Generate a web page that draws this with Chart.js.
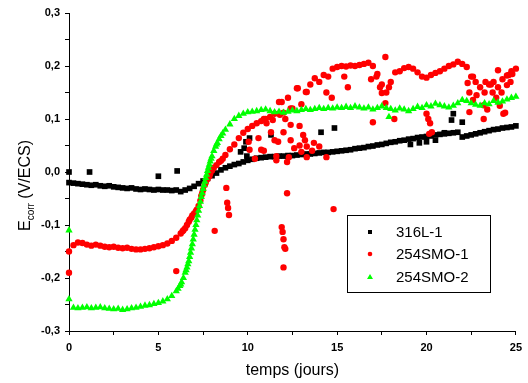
<!DOCTYPE html>
<html>
<head>
<meta charset="utf-8">
<script src="https://cdn.jsdelivr.net/npm/chart.js@4.4.1/dist/chart.umd.min.js"></script>
<style>
  html, body { margin: 0; padding: 0; background: #fff; }
  #wrap { position: relative; width: 528px; height: 383px; }
</style>
</head>
<body>
<div id="wrap"><canvas id="ecorrChart"></canvas></div>
<script>
// time grid (days), one reading every quarter day
var days = [
  0, 0.25, 0.5, 0.75, 1, 1.25, 1.5, 1.75, 2, 2.25, 2.5, 2.75, 3, 3.25, 3.5, 3.75,
  4, 4.25, 4.5, 4.75, 5, 5.25, 5.5, 5.75, 6, 6.25, 6.5, 6.75, 7, 7.25, 7.5, 7.75,
  8, 8.25, 8.5, 8.75, 9, 9.25, 9.5, 9.75, 10, 10.25, 10.5, 10.75, 11, 11.25, 11.5, 11.75,
  12, 12.25, 12.5, 12.75, 13, 13.25, 13.5, 13.75, 14, 14.25, 14.5, 14.75, 15, 15.25, 15.5, 15.75,
  16, 16.25, 16.5, 16.75, 17, 17.25, 17.5, 17.75, 18, 18.25, 18.5, 18.75, 19, 19.25, 19.5, 19.75,
  20, 20.25, 20.5, 20.75, 21, 21.25, 21.5, 21.75, 22, 22.25, 22.5, 22.75, 23, 23.25, 23.5, 23.75,
  24, 24.25, 24.5, 24.75, 25
];

var e316L = [
  -0.020, -0.021, -0.022, -0.023, -0.024, -0.025, -0.024, -0.026,
  -0.027, -0.026, -0.028, -0.029, -0.030, -0.031, -0.030, -0.032,
  -0.033, -0.032, -0.033, -0.034, -0.033, -0.034, -0.034, -0.035,
  -0.034, -0.037, -0.034, -0.031, -0.027, -0.022, -0.017, -0.012,
  -0.007, -0.002, 0.004, 0.008, 0.011, 0.014, 0.016, 0.019,
  0.022, 0.024, 0.026, 0.027, 0.028, 0.029, 0.029, 0.030,
  0.030, 0.031, 0.031, 0.032, 0.033, 0.034, 0.034, 0.035,
  0.036, 0.037, 0.037, 0.038, 0.039, 0.040, 0.041, 0.042,
  0.044, 0.045, 0.046, 0.048, 0.049, 0.051, 0.052, 0.054,
  0.056, 0.057, 0.059, 0.060, 0.062, 0.063, 0.065, 0.066,
  0.067, 0.068, 0.070, 0.071, 0.072, 0.073, 0.074, 0.075,
  0.066, 0.068, 0.070, 0.072, 0.074, 0.076, 0.078, 0.080,
  0.081, 0.083, 0.084, 0.085, 0.087
];

var e254SMO1 = [
  -0.150, -0.138, -0.133, -0.134, -0.137, -0.139, -0.137, -0.139,
  -0.141, -0.142, -0.141, -0.143, -0.144, -0.143, -0.145, -0.146,
  -0.146, -0.145, -0.144, -0.142, -0.140, -0.138, -0.135, -0.130,
  -0.124, -0.116, -0.106, -0.090, -0.078, -0.064, -0.034, -0.013,
  0.003, 0.013, 0.021, 0.032, 0.043, 0.052, 0.064, 0.074,
  0.081, 0.087, 0.092, 0.096, 0.100, 0.104, 0.110, 0.132,
  0.112, 0.140, 0.120, 0.158, 0.128, 0.151, 0.165, 0.177,
  0.170, 0.183, 0.180, 0.195, 0.198, 0.200, 0.199, 0.201,
  0.200, 0.202, 0.204, 0.206, 0.200, 0.185, 0.165, 0.150,
  0.170, 0.188, 0.190, 0.196, 0.198, 0.195, 0.188, 0.180,
  0.178, 0.183, 0.187, 0.190, 0.195, 0.200, 0.203, 0.208,
  0.204, 0.198, 0.180, 0.170, 0.160, 0.150, 0.165, 0.170,
  0.160, 0.175, 0.182, 0.190, 0.195
];

var e254SMO2 = [
  -0.240, -0.256, -0.257, -0.256, -0.255, -0.257, -0.256, -0.255,
  -0.257, -0.258, -0.259, -0.258, -0.260, -0.259, -0.257, -0.256,
  -0.254, -0.252, -0.251, -0.249, -0.247, -0.244, -0.240, -0.234,
  -0.225, -0.212, -0.190, -0.160, -0.118, -0.073, -0.032, 0.002,
  0.030, 0.052, 0.068, 0.080, 0.090, 0.100, 0.106, 0.110,
  0.113, 0.114, 0.115, 0.117, 0.118, 0.115, 0.113, 0.114,
  0.112, 0.114, 0.116, 0.115, 0.117, 0.119, 0.117, 0.119,
  0.121, 0.119, 0.121, 0.120, 0.122, 0.121, 0.123, 0.121,
  0.124, 0.122, 0.120, 0.122, 0.118, 0.121, 0.124, 0.121,
  0.119, 0.116, 0.120, 0.118, 0.115, 0.119, 0.123, 0.121,
  0.126, 0.124, 0.129, 0.126, 0.124, 0.122, 0.125, 0.130,
  0.136, 0.134, 0.130, 0.127, 0.125, 0.130, 0.128, 0.134,
  0.131, 0.133, 0.137, 0.140, 0.142
];

// extra readings during the fast potential jump
var smo1FineT = [6.35, 6.4, 6.6, 6.7, 6.85, 6.9, 7.1, 7.15, 7.35, 7.4, 7.45, 7.6, 7.65, 7.85, 7.9, 8.1, 8.4, 8.6];
var smo1FineE = [-0.112, -0.110, -0.100, -0.094, -0.086, -0.082, -0.074, -0.071, -0.054, -0.045, -0.040, -0.024, -0.020, -0.008, -0.003, 0.008, 0.019, 0.025];

var smo2FineT = [6.1, 6.2, 6.3, 6.4, 6.55, 6.6, 6.65, 6.7, 6.8, 6.85, 6.9, 6.95, 7.05, 7.1, 7.15, 7.2,
  7.3, 7.35, 7.4, 7.45, 7.55, 7.6, 7.65, 7.7, 7.8, 7.85, 7.9, 7.95, 8.1, 8.2, 8.3, 8.4, 8.6];
var smo2FineE = [-0.220, -0.215, -0.208, -0.200, -0.185, -0.180, -0.174, -0.168, -0.152, -0.144, -0.136, -0.127, -0.109, -0.100, -0.091, -0.082,
  -0.064, -0.056, -0.047, -0.040, -0.025, -0.018, -0.011, -0.005, 0.008, 0.014, 0.020, 0.025, 0.040, 0.048, 0.055, 0.062, 0.073];

// isolated points off the main curves [day, E]
var stray316L = [
  [0, 0.0], [1.15, 0.0], [5.0, -0.008], [6.05, 0.002],
  [9.6, 0.038], [9.8, 0.045], [9.9, 0.057], [9.95, 0.030], [10.1, 0.064],
  [11.3, 0.070], [14.1, 0.075], [14.85, 0.083],
  [19.1, 0.052], [19.6, 0.055], [20.0, 0.057], [20.5, 0.060],
  [21.0, 0.074], [21.4, 0.098], [21.5, 0.110], [22.0, 0.094]
];

var stray254SMO1 = [
  [0, -0.19], [6.0, -0.187], [8.15, -0.111], [8.8, -0.030], [8.85, -0.058], [8.9, -0.068], [8.95, -0.081],
  [11.9, -0.104], [11.95, -0.113], [12.0, -0.127], [12.05, -0.142], [12.1, -0.145], [12.0, -0.180],
  [12.2, -0.040], [14.8, -0.070],
  [10.05, 0.057], [10.1, 0.042], [10.75, 0.042], [10.6, 0.064], [11.05, 0.092], [10.9, 0.100],
  [11.3, 0.075], [11.7, 0.057], [10.9, 0.040], [11.6, 0.030], [12.0, 0.075], [12.4, 0.089],
  [12.4, 0.060], [12.9, 0.087], [13.1, 0.070], [13.2, 0.060], [12.9, 0.050], [13.3, 0.048],
  [13.7, 0.055], [12.3, 0.028], [13.3, 0.028], [14.4, 0.028], [12.2, 0.019], [11.6, 0.022],
  [10.4, 0.025], [13.0, 0.038], [13.6, 0.040], [14.0, 0.048], [11.5, 0.060], [12.6, 0.045],
  [11.9, 0.132], [12.8, 0.158], [13.3, 0.151], [12.4, 0.120], [14.7, 0.140], [14.4, 0.150],
  [11.4, 0.098], [11.8, 0.108], [12.1, 0.100],
  [15.4, 0.180], [15.6, 0.160],
  [16.9, 0.175], [17.0, 0.094], [17.2, 0.180], [17.4, 0.160], [17.5, 0.149], [17.7, 0.217],
  [17.7, 0.130], [17.9, 0.160], [18.2, 0.100],
  [20.0, 0.110], [20.1, 0.100], [20.2, 0.092], [20.3, 0.075], [20.15, 0.072],
  [22.3, 0.168], [22.4, 0.150], [22.6, 0.180], [22.6, 0.136], [22.8, 0.145], [22.4, 0.113],
  [23.2, 0.126], [23.4, 0.118], [23.3, 0.170], [23.6, 0.165], [23.7, 0.150], [23.2, 0.100],
  [24.0, 0.192], [24.1, 0.125], [24.3, 0.110], [24.4, 0.112], [24.6, 0.183], [24.7, 0.170],
  [24.8, 0.185], [24.5, 0.164], [23.9, 0.140], [24.2, 0.150]
];

var stray254SMO2 = [[0, -0.11], [17.9, 0.104]];

var seriesNames = ['316L-1', '254SMO-1', '254SMO-2'];
var seriesColors = ['#000000', '#ff0000', '#00ff00'];
var xTitle = 'temps (jours)';

function toPoints(t, e) {
    var pts = [];
    for (var i = 0; i < t.length; i++) {
        pts.push({ x: t[i], y: e[i] });
    }
    return pts;
}

function pairsToPoints(pairs) {
    return pairs.map(function(p) { return { x: p[0], y: p[1] }; });
}

var pts316L = toPoints(days, e316L).concat(pairsToPoints(stray316L));
var pts254SMO1 = toPoints(days, e254SMO1).concat(toPoints(smo1FineT, smo1FineE), pairsToPoints(stray254SMO1));
var pts254SMO2 = toPoints(days, e254SMO2).concat(toPoints(smo2FineT, smo2FineE), pairsToPoints(stray254SMO2));

var FONT = 'Arial, "Liberation Sans", sans-serif';

// titles + boxed legend, drawn by hand like Origin does
var overlayPlugin = {
    id: 'overlay',
    afterDraw: function(chart) {
        var ctx = chart.ctx;
        var area = chart.chartArea;
        ctx.save();
        ctx.fillStyle = '#000';

        ctx.font = '16px ' + FONT;
        ctx.textAlign = 'center';
        ctx.textBaseline = 'alphabetic';
        ctx.fillText(xTitle, (area.left + area.right) / 2, 375);

        // E_corr (V/ECS), rotated
        ctx.save();
        ctx.translate(30, 231);
        ctx.rotate(-Math.PI / 2);
        ctx.textAlign = 'left';
        ctx.font = '16px ' + FONT;
        ctx.fillText('E', 0, 0);
        var w = ctx.measureText('E').width;
        ctx.font = '10px ' + FONT;
        ctx.fillText('corr', w, 4);
        w += ctx.measureText('corr').width;
        ctx.font = '16px ' + FONT;
        ctx.fillText(' (V/ECS)', w, 0);
        ctx.restore();

        // legend box
        ctx.strokeStyle = '#000';
        ctx.lineWidth = 1;
        ctx.strokeRect(347.5, 215.5, 143, 77);
        var rows = [232, 254, 277];
        ctx.font = '15px ' + FONT;
        ctx.textAlign = 'left';
        ctx.textBaseline = 'middle';
        for (var i = 0; i < seriesNames.length; i++) {
            var y = rows[i];
            ctx.fillStyle = seriesColors[i];
            if (i === 0) {
                ctx.fillRect(368, y - 2, 4, 4);
            } else if (i === 1) {
                ctx.beginPath();
                ctx.arc(370, y, 2.3, 0, Math.PI * 2);
                ctx.fill();
            } else {
                ctx.beginPath();
                ctx.moveTo(370, y - 3);
                ctx.lineTo(373, y + 2);
                ctx.lineTo(367, y + 2);
                ctx.closePath();
                ctx.fill();
            }
            ctx.fillStyle = '#000';
            ctx.fillText(seriesNames[i], 396, y + 1);
        }
        ctx.restore();
    }
};

var ctx = document.getElementById('ecorrChart');

var myChart = new Chart(ctx.getContext('2d'), {
    type: 'scatter',
    data: {
        datasets: [{
            label: seriesNames[2],
            data: pts254SMO2,
            pointStyle: 'triangle',
            pointRadius: 4.2,
            backgroundColor: seriesColors[2],
            borderColor: seriesColors[2],
            borderWidth: 0,
            clip: false,
            order: 0
        }, {
            label: seriesNames[1],
            data: pts254SMO1,
            pointStyle: 'circle',
            pointRadius: 3.2,
            backgroundColor: seriesColors[1],
            borderColor: seriesColors[1],
            borderWidth: 0,
            clip: false,
            order: 1
        }, {
            label: seriesNames[0],
            data: pts316L,
            pointStyle: 'rect',
            pointRadius: 4,
            backgroundColor: seriesColors[0],
            borderColor: seriesColors[0],
            borderWidth: 0,
            clip: false,
            order: 2
        }]
    },
    options: {
        responsive: true,
        maintainAspectRatio: false,
        animation: false,
        events: [],
        layout: {
            padding: { left: 0, right: 9, top: 13, bottom: 0 }
        },
        scales: {
            x: {
                type: 'linear',
                position: 'bottom',
                min: 0,
                max: 25,
                afterFit: function(scale) { scale.height = 52; },
                border: { display: true, color: '#000', width: 1 },
                grid: {
                    drawOnChartArea: false,
                    drawTicks: true,
                    tickLength: 4,
                    color: '#000'
                },
                ticks: {
                    stepSize: 2.5,
                    autoSkip: false,
                    maxRotation: 0,
                    padding: 6,
                    color: '#000',
                    font: { family: FONT, size: 11, weight: 'bold' },
                    callback: function(value) {
                        return (Math.round(value * 10) % 50 === 0) ? String(Math.round(value)) : '';
                    }
                }
            },
            y: {
                type: 'linear',
                min: -0.3,
                max: 0.3,
                afterFit: function(scale) { scale.width = 69; },
                border: { display: true, color: '#000', width: 1 },
                grid: {
                    drawOnChartArea: false,
                    drawTicks: true,
                    tickLength: 4,
                    color: '#000'
                },
                ticks: {
                    stepSize: 0.05,
                    autoSkip: false,
                    padding: 5,
                    color: '#000',
                    font: { family: FONT, size: 11, weight: 'bold' },
                    callback: function(value) {
                        var k = Math.round(value * 100);
                        if (k % 10 !== 0) return '';
                        return (Math.round(value * 10) / 10 + 0).toFixed(1).replace('.', ',');
                    }
                }
            }
        },
        plugins: {
            legend: { display: false },
            tooltip: { enabled: false }
        }
    },
    plugins: [overlayPlugin]
});
</script>
</body>
</html>
